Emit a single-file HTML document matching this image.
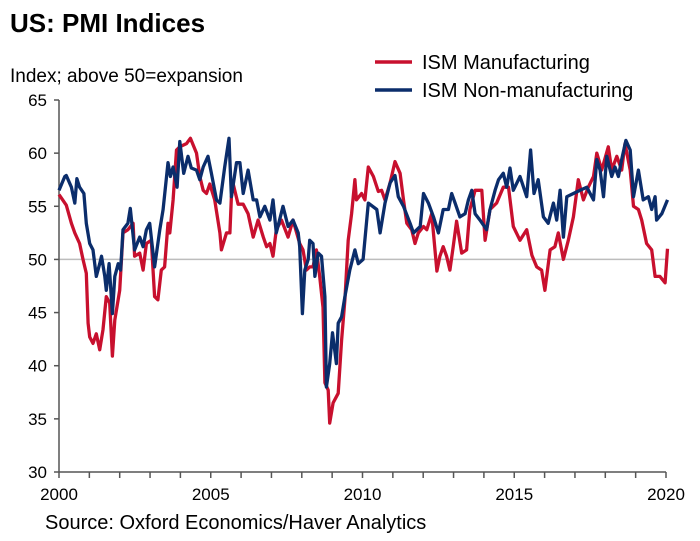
<!DOCTYPE html>
<html><head><meta charset="utf-8"><style>
html,body{margin:0;padding:0;background:#fff;width:700px;height:541px;overflow:hidden}
svg{display:block;font-family:"Liberation Sans",Arial,sans-serif}
</style></head><body>
<svg id="chart" width="700" height="541">
<text x="10" y="32" font-size="26" font-weight="bold" fill="#000">US: PMI Indices</text>
<text x="10" y="82" font-size="19" fill="#000">Index; above 50=expansion</text>
<g>
<line x1="375" y1="62" x2="412" y2="62" stroke="#c8102e" stroke-width="3.5"/>
<text x="422" y="69" font-size="20" fill="#000">ISM Manufacturing</text></g>
<g>
<line x1="375" y1="90" x2="412" y2="90" stroke="#0b2d6b" stroke-width="3.5"/>
<text x="422" y="97" font-size="20" fill="#000">ISM Non-manufacturing</text></g>
<g id="axes"></g><g id="series"></g>
<text x="45" y="529" font-size="20" fill="#000">Source: Oxford Economics/Haver Analytics</text>
</svg>
<script>
const yTicks=[30,35,40,45,50,55,60,65];
const xLabelYears=[2000,2005,2010,2015,2020];
const mfgT=[0,.24,.41,.52,.68,.79,.90,.96,1.01,1.12,1.23,1.34,1.45,1.56,1.67,1.76,1.84,2.0,2.11,2.27,2.44,2.49,2.66,2.77,2.88,3.04,3.15,3.26,3.37,3.48,3.59,3.65,3.76,3.87,3.98,4.2,4.33,4.53,4.64,4.75,4.86,4.97,5.13,5.3,5.35,5.52,5.63,5.68,5.74,5.9,6.07,6.23,6.4,6.56,6.73,6.84,6.95,7.05,7.16,7.33,7.55,7.71,7.93,8.04,8.15,8.26,8.37,8.48,8.59,8.7,8.76,8.87,8.92,9.03,9.2,9.31,9.42,9.53,9.64,9.75,9.8,9.97,10.08,10.19,10.36,10.52,10.63,10.74,10.91,11.07,11.24,11.35,11.46,11.62,11.73,11.84,12.01,12.12,12.28,12.45,12.55,12.66,12.77,12.88,12.99,13.1,13.27,13.43,13.54,13.71,13.93,14.04,14.2,14.42,14.64,14.81,14.97,15.19,15.41,15.58,15.74,15.9,16.01,16.18,16.34,16.45,16.62,16.78,16.95,17.11,17.28,17.44,17.61,17.72,17.88,18.1,18.21,18.38,18.54,18.65,18.82,18.93,19.09,19.2,19.36,19.53,19.64,19.8,19.97,20.05];
const mfgV=[56.1,55.1,53.4,52.5,51.5,50,48.7,44,42.7,42.1,43,41.5,43.4,46.5,45.9,40.9,44.3,47.1,52.5,52.8,53.4,50.3,50.6,49,51.5,51.8,46.5,46.2,49,49.3,53.4,52.5,55.6,60.3,60.6,60.9,61.4,60,57.8,56.5,56.2,57.1,55.6,52.5,50.9,52.5,52.5,55.9,57.1,55.2,55.2,54.3,52.1,53.7,52.1,51.2,51.5,50.3,52.8,53.7,52.1,53.7,51.5,50.9,49,49.3,49.3,50.9,48.4,45.5,38.4,37.7,34.6,36.5,37.4,42.4,46.2,51.8,54.3,57.5,55.6,56.2,55.6,58.7,57.8,56.4,56.5,55.6,57.2,59.2,58.1,55.6,53.4,52.8,51.5,52.5,53.1,52.8,54.3,48.9,50.3,51.2,50.3,49,51.2,53.6,50.6,50.9,54.7,56.5,56.5,51.8,54.7,55.3,56.8,56.8,53.1,51.8,52.8,50.4,49.3,49,47.1,50.9,51.2,52.5,50,51.8,54,57.5,55.6,56.8,57.8,60,58.4,60.6,58.4,59.7,58.4,60.9,58.4,55,54.7,53.7,51.5,50.9,48.4,48.4,47.8,51];
const nonT=[0,.19,.24,.41,.52,.59,.68,.82,.9,1.01,1.12,1.23,1.34,1.4,1.51,1.56,1.65,1.76,1.84,1.95,2.03,2.11,2.27,2.35,2.49,2.66,2.77,2.88,2.99,3.15,3.32,3.43,3.59,3.67,3.76,3.89,3.98,4.11,4.25,4.36,4.53,4.64,4.75,4.91,5.02,5.19,5.3,5.46,5.6,5.68,5.85,5.96,6.07,6.23,6.4,6.51,6.62,6.78,6.95,7.05,7.16,7.38,7.55,7.71,7.88,7.93,8.02,8.1,8.21,8.26,8.37,8.43,8.54,8.65,8.76,8.81,8.92,9.01,9.14,9.2,9.31,9.42,9.58,9.75,9.86,10.02,10.19,10.47,10.58,10.74,10.91,11.07,11.18,11.35,11.57,11.68,11.9,12.01,12.17,12.34,12.5,12.66,12.83,12.94,13.05,13.21,13.38,13.49,13.6,13.71,13.87,14.09,14.2,14.37,14.48,14.64,14.75,14.86,14.97,15.19,15.41,15.54,15.65,15.79,15.96,16.12,16.29,16.4,16.51,16.62,16.73,16.95,17.17,17.39,17.61,17.72,17.83,17.94,18.05,18.21,18.32,18.43,18.54,18.68,18.82,18.93,19.09,19.25,19.42,19.53,19.64,19.69,19.86,20.05];
const nonV=[56.5,57.8,57.9,56.8,55.3,57.6,56.8,56.2,53.4,51.5,50.9,48.4,49.6,50.3,48.4,47.1,49.6,44.9,48.4,49.6,49,52.8,53.4,54.8,50.9,52.1,51.2,52.8,53.4,49.3,52.8,54.7,59.1,57.8,58.7,56.8,61.1,58.1,59.7,58.6,58.4,57.5,58.7,59.7,58.1,55.6,55.3,58.7,61.4,55.9,59.1,59.1,56.2,58.4,55.6,55.6,54,55,53.7,55.6,52.5,55,53.1,53.7,52.5,51.2,44.9,49,50,51.8,51.5,48.4,50.6,50.3,46.5,38,40.2,43.1,40.2,44,44.6,46.5,49,50.9,49.6,50,55.3,54.7,52.5,55.3,57.2,57.9,55.9,55,53.4,52.5,53.1,56.2,55.3,54,52.5,54.7,54.7,56.2,55.3,54,54.3,55.6,56.5,54.3,53.7,52.8,54.7,56.5,57.5,58.1,56.8,58.6,56.5,57.8,55.9,60.3,56.2,57.5,54,53.4,55.3,53.7,56.5,52.1,55.9,56.2,56.5,56.8,55.6,59.4,58.4,55.9,59.7,57.8,58.7,57.8,59.4,61.2,60.3,55.9,58.4,55.6,55.9,54.7,55.9,53.7,54.3,55.6];
const X0=59,X1=666,Y0=472,Y1=100,ymin=30,ymax=65;
const xs=t=>X0+(X1-X0)*t/20;
const ys=v=>Y0-(Y0-Y1)*(v-ymin)/(ymax-ymin);
const NS="http://www.w3.org/2000/svg";
const axes=document.getElementById('axes'),ser=document.getElementById('series');
function mk(tag,attrs,parent){const e=document.createElementNS(NS,tag);for(const k in attrs)e.setAttribute(k,attrs[k]);parent.appendChild(e);return e;}
const grid=mk('line',{x1:X0,x2:X1,y1:ys(50),y2:ys(50),stroke:'#bdbdbd','stroke-width':1.5},axes);


const ya=mk('line',{x1:X0,x2:X0,y1:Y1,y2:Y0,stroke:'#555','stroke-width':1.5},axes);


const xa=mk('line',{x1:X0,x2:X1,y1:Y0,y2:Y0,stroke:'#555','stroke-width':1.5},axes);


yTicks.forEach(v=>{
  mk('line',{x1:X0-5,x2:X0,y1:ys(v),y2:ys(v),stroke:'#555','stroke-width':1.5},axes);
  const t=mk('text',{x:47,y:ys(v)+6,'font-size':17,'text-anchor':'end',fill:'#000'},axes);
  t.textContent=v;
  
  
});
for(let i=0;i<=20;i++){mk('line',{x1:xs(i),x2:xs(i),y1:Y0,y2:Y0+6,stroke:'#555','stroke-width':1.5},axes);}
xLabelYears.forEach(y=>{
  const t=mk('text',{x:xs(y-2000),y:500,'font-size':17,'text-anchor':'middle',fill:'#000'},axes);
  t.textContent=y;
  
  
});
function line(T,V,color,name){
  const d=T.map((t,i)=>(i?'L':'M')+xs(t).toFixed(1)+','+ys(V[i]).toFixed(1)).join('');
  const p=mk('path',{d:d,fill:'none',stroke:color,'stroke-width':3.3,'stroke-linejoin':'round'},ser);
  
  
}
line(mfgT,mfgV,'#c8102e','ism-manufacturing-line');
line(nonT,nonV,'#0b2d6b','ism-non-manufacturing-line');
</script>
</body></html>
